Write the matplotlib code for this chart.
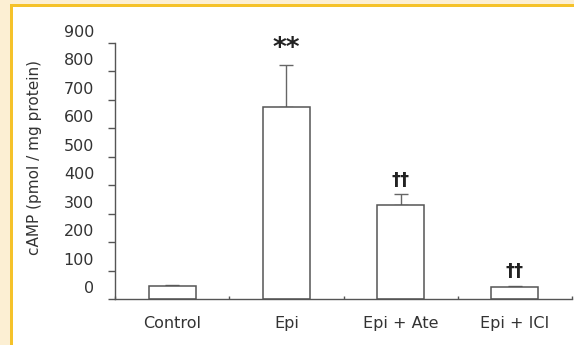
import matplotlib
matplotlib.use("Agg")
import matplotlib.pyplot as plt
import matplotlib.transforms as mtransforms
from matplotlib.patches import Rectangle
import numpy as np

categories = ["Control", "Epi", "Epi + Ate", "Epi + ICI"]
means = [45, 675, 332, 42]
sems = [5, 146, 36, 5]
marks = ["", "**", "\u2020\u2020", "\u2020\u2020"]
yticks = [0, 100, 200, 300, 400, 500, 600, 700, 800, 900]

W, H = 574, 345
fig = plt.figure(figsize=(W / 100, H / 100), dpi=100)
fig.patch.set_facecolor("#FCEFD3")
fig.patches.append(Rectangle((10 / W, 0), 1, (H - 4) / H, transform=fig.transFigure,
                             facecolor="#F5C22A", edgecolor="none", zorder=-20))
fig.patches.append(Rectangle((13 / W, 0), 1, (H - 7) / H, transform=fig.transFigure,
                             facecolor="white", edgecolor="none", zorder=-10))

ax = fig.add_axes([115 / W, (H - 299.3) / H, 457 / W, 256.6 / H])
ax.set_facecolor("none")
ax.set_zorder(5)

txt = "#333333"
line = "#555555"
x = np.arange(len(categories))
ax.bar(x, means, width=0.41, color="white", edgecolor=line, linewidth=1.1, zorder=2)
ax.errorbar(x, means, yerr=[np.zeros(len(sems)), sems], fmt="none", ecolor="#666666",
            elinewidth=1.0, capsize=5, capthick=1.0, zorder=1)

for i, (m, s, t) in enumerate(zip(means, sems, marks)):
    if not t:
        continue
    if t == "**":
        ax.annotate(t, xy=(i, m + s), xytext=(0, 2), textcoords="offset points",
                    ha="center", va="bottom", fontsize=19, fontweight="bold",
                    color="#222222", family="DejaVu Sans")
    else:
        ax.annotate(t, xy=(i, m + s), xytext=(0, 4), textcoords="offset points",
                    ha="center", va="bottom", fontsize=13, fontweight="bold",
                    color="#222222", family="DejaVu Sans")

ax.set_xlim(-0.5, len(categories) - 0.5)
ax.set_ylim(0, 900)
for sp in ("top", "right"):
    ax.spines[sp].set_visible(False)
for sp in ("left", "bottom"):
    ax.spines[sp].set_color(line)
    ax.spines[sp].set_linewidth(1.0)

ax.set_yticks(yticks)
ax.set_yticklabels([str(v) for v in yticks])
ax.tick_params(axis="y", direction="out", length=5, width=1.0, color=line,
               labelsize=11.5, labelcolor=txt, pad=10)
offset = mtransforms.ScaledTranslation(0, 12 / 100, fig.dpi_scale_trans)
for lab in ax.get_yticklabels():
    lab.set_transform(lab.get_transform() + offset)

ax.set_xticks(np.arange(len(categories) + 1) - 0.5)
ax.set_xticklabels([])
ax.tick_params(axis="x", which="major", direction="in", length=2, width=1.0, color=line)
ax.set_xticks(x, minor=True)
ax.set_xticklabels(categories, minor=True)
ax.tick_params(axis="x", which="minor", length=0, labelsize=11.5, labelcolor=txt, pad=12)

for lab in ax.get_yticklabels() + ax.get_xticklabels(minor=True):
    lab.set_family("DejaVu Sans")

fig.text(35 / W, (H - 158) / H, "cAMP (pmol / mg protein)", rotation=90,
         ha="center", va="center", fontsize=11, color=txt, family="DejaVu Sans",
         zorder=5)

fig.savefig("out.png", dpi=100, facecolor=fig.get_facecolor())
